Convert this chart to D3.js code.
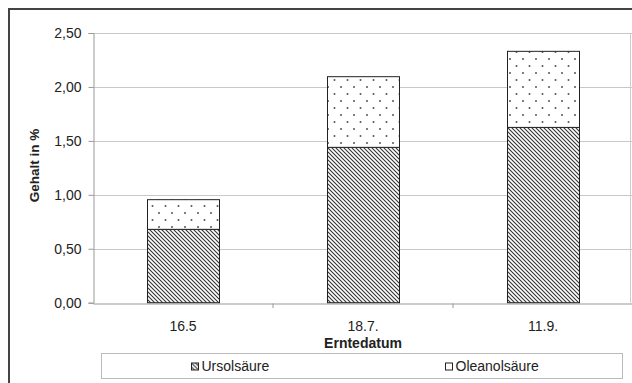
<!DOCTYPE html>
<html><head><meta charset="utf-8">
<script src="https://cdn.jsdelivr.net/npm/d3@7"></script>
<style>body{margin:0;background:#fff}svg{display:block}text{font-family:"Liberation Sans",Arial,sans-serif}</style>
</head><body><svg id="c" width="632" height="383"></svg>
<script>
const categories = ["16.5", "18.7.", "11.9."];
const ursolsaeure = [0.68, 1.44, 1.625];
const oleanolsaeure = [0.275, 0.655, 0.705];
const seriesNames = ["Ursolsäure", "Oleanolsäure"];
const yTicks = [0, 0.5, 1.0, 1.5, 2.0, 2.5];

(function(){
const svg = d3.select("#c");
const defs = svg.append("defs");
const hatch = defs.append("pattern").attr("id","hatch").attr("patternUnits","userSpaceOnUse")
  .attr("width",4).attr("height",4);
hatch.append("rect").attr("width",4).attr("height",4).attr("fill","#fff");
hatch.append("path").attr("d","M-1,-1 L5,5 M-1,3 L1,5 M3,-1 L5,1").attr("stroke","#333").attr("stroke-width",1.1);
const dots = defs.append("pattern").attr("id","dots").attr("patternUnits","userSpaceOnUse")
  .attr("width",13).attr("height",14);
dots.append("rect").attr("width",13).attr("height",14).attr("fill","#fff");
dots.append("circle").attr("cx",3).attr("cy",3).attr("r",1).attr("fill","#555");
dots.append("circle").attr("cx",9.5).attr("cy",10).attr("r",1).attr("fill","#555");

const pL = 93, pR = 633, pT = 33, pB = 302.7;
const x = d3.scaleBand().domain(categories).range([pL, pR]).paddingInner(0.6).paddingOuter(0.3);
const y = d3.scaleLinear().domain([0, 2.5]).range([pB, pT]);
const font = "Liberation Sans, Arial";

// frame
svg.append("rect").attr("x",9).attr("y",9).attr("width",640).attr("height",400)
  .attr("fill","none").attr("stroke","#444").attr("stroke-width",2);

// gridlines
svg.append("g").selectAll("line").data(yTicks.slice(1)).join("line")
  .attr("x1",pL).attr("x2",pR).attr("y1",d=>Math.round(y(d))+0.5).attr("y2",d=>Math.round(y(d))+0.5)
  .attr("stroke","#c8c8c8");
svg.append("line").attr("x1",630.5).attr("x2",630.5).attr("y1",pT).attr("y2",pB).attr("stroke","#ccc");

// y axis
const yAxis = d3.axisLeft(y).tickValues(yTicks).tickSize(5).tickPadding(7)
  .tickFormat(d => d3.format(".2f")(d).replace(".", ","));
const gy = svg.append("g").attr("transform",`translate(${pL+0.5},0)`).call(yAxis);
gy.select(".domain").attr("stroke","#999");
gy.selectAll(".tick line").attr("stroke","#999");
gy.selectAll("text").attr("font-size",14).attr("fill","#222").attr("font-family",font);

// x axis
const xAxis = d3.axisBottom(x).tickSize(0).tickPadding(18);
const gx = svg.append("g").attr("transform",`translate(0,${Math.round(pB)+0.5})`).call(xAxis);
gx.select(".domain").attr("stroke","#999");
gx.selectAll("text").attr("font-size",14).attr("fill","#222").attr("font-family",font);
const step = x.step();
const bounds = categories.slice(1).map(c=> x(c) - x.paddingInner()*step/2);
svg.append("g").selectAll("line").data(bounds).join("line")
  .attr("x1",d=>d).attr("x2",d=>d).attr("y1",Math.round(pB)+0.5).attr("y2",Math.round(pB)+5)
  .attr("stroke","#999");

// bars
const stacked = categories.map((c,i)=>({c, u: ursolsaeure[i], o: oleanolsaeure[i]}));
svg.append("g").selectAll("rect").data(stacked).join("rect")
  .attr("x",d=>Math.round(x(d.c))+0.5).attr("width",x.bandwidth())
  .attr("y",d=>y(d.u)).attr("height",d=>y(0)-y(d.u))
  .attr("fill","url(#hatch)").attr("stroke","#222").attr("stroke-width",1);
svg.append("g").selectAll("rect").data(stacked).join("rect")
  .attr("x",d=>Math.round(x(d.c))+0.5).attr("width",x.bandwidth())
  .attr("y",d=>y(d.u+d.o)).attr("height",d=>y(d.u)-y(d.u+d.o))
  .attr("fill","url(#dots)").attr("stroke","#222").attr("stroke-width",1);

// axis titles
svg.append("text").attr("transform","translate(38.5,165.5) rotate(-90)").attr("text-anchor","middle")
  .attr("font-size",13.5).attr("font-weight","bold").attr("fill","#222").text("Gehalt in %");
svg.append("text").attr("x",x("18.7.")+x.bandwidth()/2).attr("y",348).attr("text-anchor","middle")
  .attr("font-size",14).attr("font-weight","bold").attr("fill","#222").text("Erntedatum");

// legend
svg.append("rect").attr("x",101.5).attr("y",353.5).attr("width",521).attr("height",25)
  .attr("fill","#fff").attr("stroke","#bbb");
const legX = [191, 445];
const lg = svg.append("g").selectAll("g").data(seriesNames).join("g")
  .attr("transform",(d,i)=>`translate(${legX[i]},362.5)`);
lg.append("rect").attr("x",0.5).attr("y",0.5).attr("width",7).attr("height",7)
  .attr("fill",(d,i)=>i===0?"url(#hatch)":"#fff").attr("stroke","#222");
lg.append("text").attr("x",10.5).attr("y",8.5).attr("font-size",14).attr("fill","#222").text(d=>d);
})();
</script></body></html>
